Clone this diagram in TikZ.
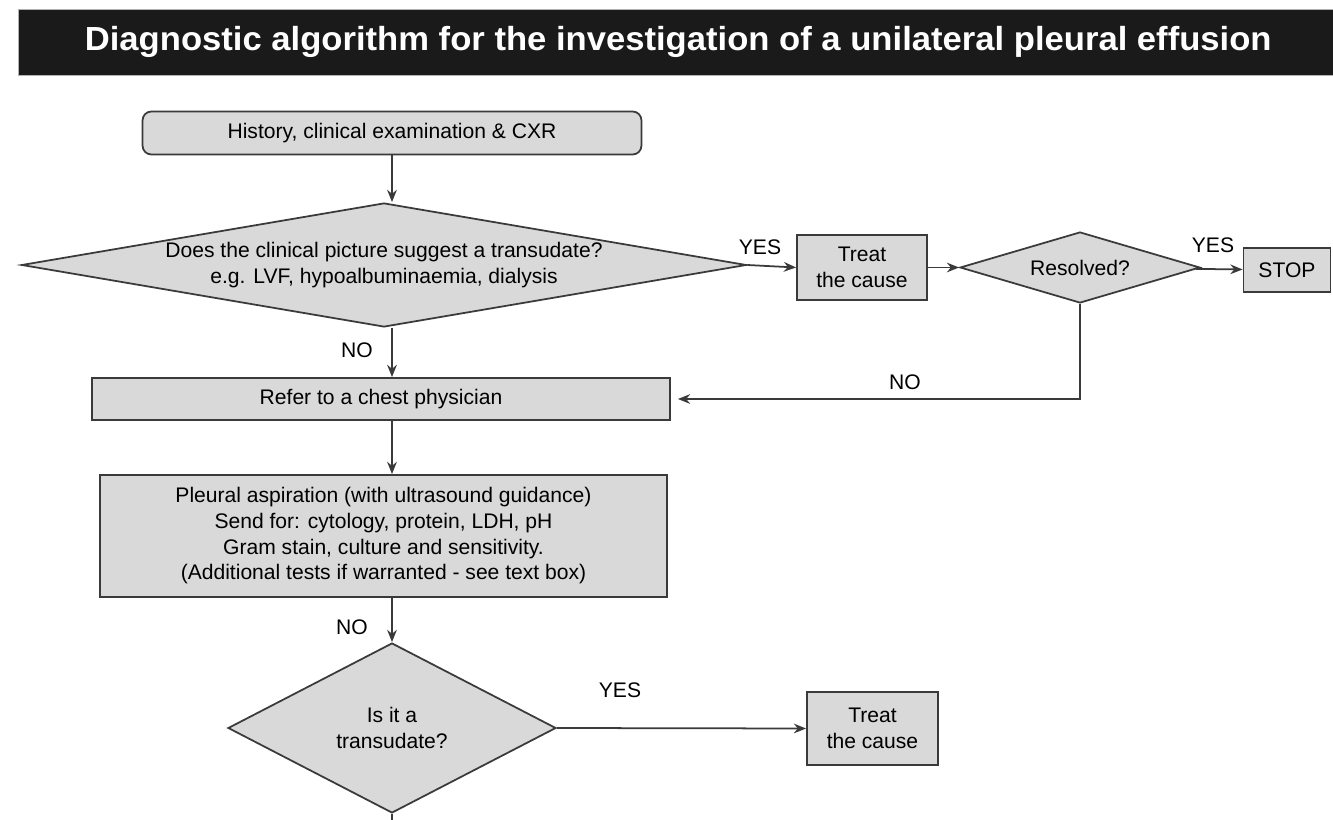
\documentclass[tikz,border=0pt]{standalone}
\usepackage{fontspec}
\setmainfont{Liberation Sans}
\usetikzlibrary{arrows.meta,shapes.geometric}
\definecolor{boxgray}{HTML}{D9D9D9}
\definecolor{linegray}{HTML}{3A3A3A}
\definecolor{titlebar}{HTML}{1A1A1A}
\newcommand{\flowfont}{\fontsize{12}{14.6}\selectfont}

\begin{document}
\begin{tikzpicture}[x=0.02cm, y=-0.02cm,
  box/.style={draw=linegray, fill=boxgray, line width=1pt, align=center, font=\flowfont, inner sep=2pt},
  decision/.style={diamond, draw=linegray, fill=boxgray, line width=1pt, align=center, font=\flowfont, inner sep=0pt},
  lbl/.style={font=\flowfont},
  arr/.style={-{Stealth[length=7pt,width=5.5pt]}, draw=linegray, line width=1pt}
]
  \useasboundingbox (0,0) rectangle (1333,820);

  % title bar
  \node[fill=titlebar, draw=gray!60, line width=0.4pt, text=white, anchor=north west,
        minimum width=26.4cm, minimum height=1.32cm,
        font=\fontsize{19}{22}\selectfont\bfseries] (title) at (18,9)
        {\scalebox{1.037}[1]{Diagnostic algorithm for the investigation of a unilateral pleural effusion}};

  % main column
  \node[box, rounded corners=5pt, minimum width=9.98cm, minimum height=0.86cm] (hist) at (392,133) {History, clinical examination \& CXR};
  \node[decision, aspect=5.8, minimum width=14.5cm, minimum height=2.48cm] (clin) at (384,265)
        {Does the clinical picture suggest a transudate?\\e.g. LVF, hypoalbuminaemia, dialysis};
  \node[box, minimum width=11.56cm, minimum height=0.84cm] (refer) at (381,399) {Refer to a chest physician};
  \node[box, minimum width=11.34cm, minimum height=2.44cm] (asp) at (383.5,536)
        {Pleural aspiration (with ultrasound guidance)\\Send for: cytology, protein, LDH, pH\\Gram stain, culture and sensitivity.\\(Additional tests if warranted - see text box)};
  \node[decision, aspect=1.93, minimum width=6.56cm, minimum height=3.4cm] (trans) at (392,728) {Is it a\\transudate?};
  \coordinate (tail) at (392,830);

  % right branches
  \node[box, minimum width=2.6cm, minimum height=1.3cm] (treat) at (862,267.5) {Treat\\the cause};
  \node[decision, aspect=3.4, minimum width=4.8cm, minimum height=1.42cm] (res) at (1080,267.5) {Resolved?};
  \node[box, minimum width=1.74cm, minimum height=0.88cm] (stop) at (1287,270) {STOP};
  \node[box, minimum width=2.62cm, minimum height=1.46cm] (treatb) at (872.5,728.5) {Treat\\the cause};

  % connectors
  \draw[arr] (hist) -- (hist |- clin.north);
  \draw[arr] (clin.south -| hist) -- (refer.north -| hist);
  \draw[arr] (clin.east) -- (treat.west);
  \draw[arr] (treat) -- (res);
  \draw[arr] (res) -- (stop);
  \draw[arr, shorten >=4pt] (res.south) |- (refer.east);
  \draw[arr] (refer.south -| hist) -- (asp.north -| hist);
  \draw[arr] (asp.south -| hist) -- (trans.north);
  \draw[arr] (trans.east) -- (treatb.west);
  \draw[draw=linegray, line width=1pt] (trans.south) -- (tail);

  % labels
  \node[lbl] (yesa) at (760,247) {YES};
  \node[lbl] (yesb) at (1213,245) {YES};
  \node[lbl] (noa) at (357,350) {NO};
  \node[lbl] (nob) at (905,382) {NO};
  \node[lbl] (noc) at (352,627) {NO};
  \node[lbl] (yesc) at (620,690) {YES};
\end{tikzpicture}
\end{document}
